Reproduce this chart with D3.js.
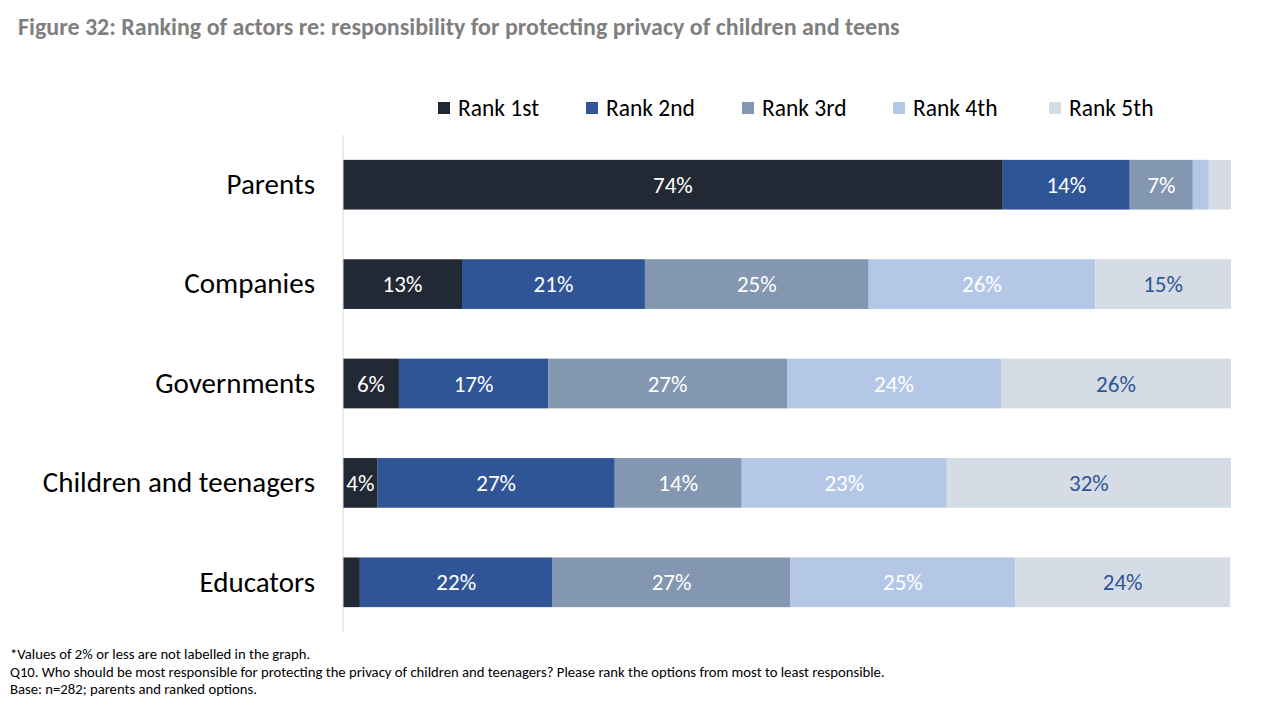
<!DOCTYPE html>
<html>
<head>
<meta charset="utf-8">
<script src="https://cdn.jsdelivr.net/npm/d3@7"></script>
<style>
  body { margin: 0; background: #fff; }
  svg { font-family: Carlito, Lato, sans-serif; }
</style>
</head>
<body>
<svg id="chart" width="1280" height="720"></svg>
<script>
const actors = ["Parents", "Companies", "Governments", "Children and teenagers", "Educators"];
const ranks = ["Rank 1st", "Rank 2nd", "Rank 3rd", "Rank 4th", "Rank 5th"];
const rank1 = [74.3, 13.4, 6.3, 3.9, 1.9];
const rank2 = [14.3, 20.6, 16.8, 26.7, 21.7];
const rank3 = [7.1, 25.2, 26.9, 14.3, 26.8];
const rank4 = [1.8, 25.5, 24.1, 23.1, 25.3];
const rank5 = [2.5, 15.3, 25.9, 32.0, 24.2];
const colors = ["#222935", "#2f5597", "#8497b0", "#b4c7e7", "#d6dce5"];
const labelColors = ["#ffffff", "#ffffff", "#ffffff", "#ffffff", "#2f5597"];

const rows = actors.map((a, i) => ({
  actor: a,
  "Rank 1st": rank1[i], "Rank 2nd": rank2[i], "Rank 3rd": rank3[i],
  "Rank 4th": rank4[i], "Rank 5th": rank5[i]
}));

const svg = d3.select("#chart");
const plotLeft = 343, plotRight = 1231, plotTop = 135, plotBottom = 632;

const x = d3.scaleLinear().domain([0, 100]).range([plotLeft, plotRight]);
const y = d3.scaleBand().domain(actors).range([plotTop, plotBottom]).paddingInner(0.5).paddingOuter(0.25);

const stacked = d3.stack().keys(ranks)(rows);

// title
svg.append("text")
  .attr("x", 18).attr("y", 35)
  .attr("fill", "#7f7f7f")
  .style("font-size", "24px").style("font-weight", "bold")
  .text("Figure 32: Ranking of actors re: responsibility for protecting privacy of children and teens");

// bars
const layer = svg.selectAll("g.layer")
  .data(stacked).enter().append("g")
  .attr("class", "layer")
  .attr("fill", (d, i) => colors[i]);

layer.selectAll("rect")
  .data(d => d).enter().append("rect")
  .attr("x", d => x(d[0]))
  .attr("y", d => y(d.data.actor))
  .attr("width", d => x(d[1]) - x(d[0]))
  .attr("height", y.bandwidth());

layer.selectAll("text")
  .data(d => d.filter(p => p[1] - p[0] > 2.5)).enter().append("text")
  .attr("x", d => (x(d[0]) + x(d[1])) / 2)
  .attr("y", d => y(d.data.actor) + y.bandwidth() / 2)
  .attr("dy", "0.35em")
  .attr("text-anchor", "middle")
  .attr("fill", function () { return labelColors[ranks.indexOf(d3.select(this.parentNode).datum().key)]; })
  .style("font-size", "23px")
  .text(d => Math.round(d[1] - d[0]) + "%");

// axis line
svg.append("line")
  .attr("x1", plotLeft).attr("x2", plotLeft)
  .attr("y1", plotTop).attr("y2", plotBottom)
  .attr("stroke", "#d9d9d9").attr("stroke-width", 1);

// category labels
const yAxis = svg.append("g")
  .attr("transform", `translate(${plotLeft},0)`)
  .call(d3.axisLeft(y).tickSize(0).tickPadding(28));
yAxis.select(".domain").remove();
yAxis.selectAll("text")
  .attr("fill", "#000")
  .style("font-size", "29px")
  .style("font-family", "Carlito, Lato, sans-serif");

// legend
const legendX = [438, 586, 742, 893, 1049];
const legend = svg.selectAll("g.legend")
  .data(ranks).enter().append("g")
  .attr("class", "legend")
  .attr("transform", (d, i) => `translate(${legendX[i]},108)`);
legend.append("rect")
  .attr("x", 0).attr("y", -6).attr("width", 12).attr("height", 12)
  .attr("fill", (d, i) => colors[i]);
legend.append("text")
  .attr("x", 20).attr("dy", "0.35em")
  .style("font-size", "23.5px")
  .attr("fill", "#000")
  .text(d => d);

// footnotes
const notes = [
  "*Values of 2% or less are not labelled in the graph.",
  "Q10. Who should be most responsible for protecting the privacy of children and teenagers? Please rank the options from most to least responsible.",
  "Base: n=282; parents and ranked options."
];
svg.selectAll("text.note")
  .data(notes).enter().append("text")
  .attr("class", "note")
  .attr("x", 10)
  .attr("y", (d, i) => 659 + i * 17.5)
  .style("font-size", "14.7px")
  .attr("fill", "#000")
  .text(d => d);
</script>
</body>
</html>
